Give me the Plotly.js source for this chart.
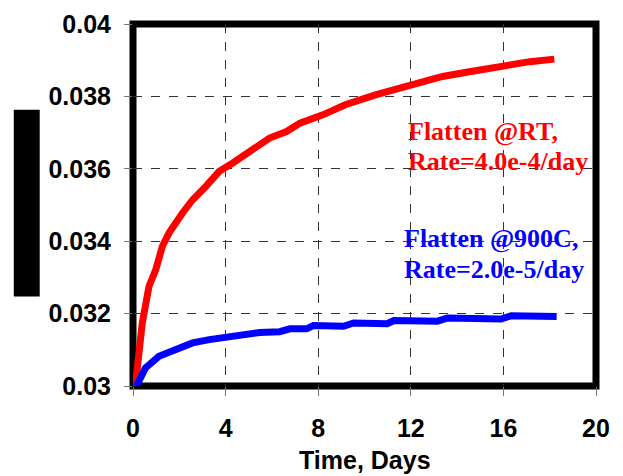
<!DOCTYPE html>
<html>
<head>
<meta charset="utf-8">
<script src="https://cdn.plot.ly/plotly-3.0.1.min.js"></script>
<style>html,body{margin:0;padding:0;background:#fff;}#chart{width:623px;height:476px;}</style>
</head>
<body>
<div id="chart"></div>
<script>
// Flatten @RT
const rtDays = [0.1, 0.4, 0.69, 0.98, 1.27, 1.56, 2.14, 2.57, 3.08, 3.73, 4.31, 5.18, 5.9, 6.63, 7.21, 8.2, 9.17, 10.47, 11.49, 12.2, 13.37, 14.53, 15.69, 16.27, 17.14, 18.2];
const rtValues = [0.0300, 0.03174, 0.03275, 0.03321, 0.03386, 0.03423, 0.03478, 0.03514, 0.03547, 0.03593, 0.03616, 0.03652, 0.03685, 0.03703, 0.03726, 0.03749, 0.03777, 0.03804, 0.03823, 0.03832, 0.03855, 0.03868, 0.03882, 0.03887, 0.03896, 0.03903];
// Flatten @900C
const hotDays = [0.15, 0.54, 1.12, 1.85, 2.57, 3.3, 4.02, 4.75, 5.47, 6.34, 6.77, 7.5, 7.79, 9.09, 9.53, 10.98, 11.27, 13.15, 13.59, 15.9, 16.34, 18.3];
const hotValues = [0.0300, 0.0305, 0.03082, 0.03101, 0.03119, 0.03128, 0.03136, 0.03142, 0.03148, 0.0315, 0.03158, 0.03158, 0.03167, 0.03165, 0.03174, 0.03172, 0.03181, 0.03179, 0.03188, 0.03185, 0.03194, 0.03192];

const xTicks = [0, 4, 8, 12, 16, 20];
const yTicks = [0.03, 0.032, 0.034, 0.036, 0.038, 0.04];
const yTickLabels = ["0.03", "0.032", "0.034", "0.036", "0.038", "0.04"];
const xTitle = "Time, Days";
const rtLabel = ["Flatten @RT,", "Rate=4.0e-4/day"];
const hotLabel = ["Flatten @900C,", "Rate=2.0e-5/day"];

const traces = [
  {x: rtDays, y: rtValues, mode: "lines", line: {color: "#ff0000", width: 7}, hoverinfo: "skip"},
  {x: hotDays, y: hotValues, mode: "lines", line: {color: "#0000ff", width: 7}, hoverinfo: "skip"}
];

const tickFont = {family: "Arial, Liberation Sans, sans-serif", size: 25, color: "#000", weight: "bold"};
const annFont = (c) => ({family: "Times New Roman, Liberation Serif, serif", size: 26, color: c, weight: "bold"});

const layout = {
  width: 623, height: 476,
  margin: {l: 132.5, r: 26.5, t: 24, b: 89.5},
  paper_bgcolor: "#fff", plot_bgcolor: "#fff",
  showlegend: false,
  xaxis: {
    range: [0, 20], tickvals: xTicks, ticktext: xTicks.map(String),
    showgrid: true, gridcolor: "#333", griddash: "dash", gridwidth: 1,
    zeroline: false, showline: false,
    ticks: "outside", ticklen: 9, tickcolor: "#777", tickwidth: 1,
    ticklabelstandoff: 11,
    tickfont: tickFont
  },
  yaxis: {
    range: [0.03, 0.04], tickvals: yTicks, ticktext: yTickLabels,
    showgrid: true, gridcolor: "#333", griddash: "dash", gridwidth: 1,
    zeroline: false, showline: false,
    ticks: "outside", ticklen: 8, tickcolor: "#777", tickwidth: 1,
    ticklabelstandoff: 8,
    tickfont: tickFont
  },
  shapes: [
    {type: "rect", xref: "paper", yref: "paper", x0: 0, x1: 1, y0: 0, y1: 1,
     line: {color: "#000", width: 7}, fillcolor: "rgba(0,0,0,0)", layer: "between"},
    {type: "rect", xref: "paper", yref: "paper", x0: -0.2575, x1: -0.2015, y0: 0.2469, y1: 0.7628,
     line: {width: 0}, fillcolor: "#000", layer: "above"}
  ],
  annotations: [
    {xref: "paper", yref: "paper", x: 0.5, y: -0.2055, xanchor: "center", yanchor: "middle", text: xTitle, showarrow: false,
     font: {family: "Arial, Liberation Sans, sans-serif", size: 25, color: "#000", weight: "bold"}},
    {xref: "x", yref: "y", x: 11.79, y: 0.03703, xanchor: "left", yanchor: "middle", text: rtLabel[0], showarrow: false, font: annFont("#ff0000")},
    {xref: "x", yref: "y", x: 11.79, y: 0.03621, xanchor: "left", yanchor: "middle", text: rtLabel[1], showarrow: false, font: annFont("#ff0000")},
    {xref: "x", yref: "y", x: 11.62, y: 0.03408, xanchor: "left", yanchor: "middle", text: hotLabel[0], showarrow: false, font: annFont("#0000ff")},
    {xref: "x", yref: "y", x: 11.62, y: 0.03323, xanchor: "left", yanchor: "middle", text: hotLabel[1], showarrow: false, font: annFont("#0000ff")}
  ]
};

Plotly.newPlot("chart", traces, layout, {staticPlot: true, displayModeBar: false});
</script>
</body>
</html>
